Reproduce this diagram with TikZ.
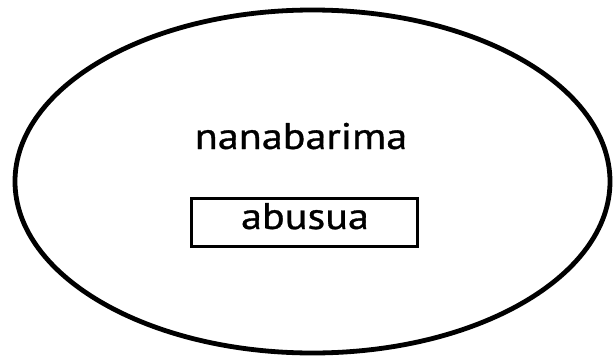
\documentclass[tikz,border=0pt]{standalone}
\usepackage{fontspec}
\setmainfont{PT Sans}[FakeBold=0.8,AutoFakeBold=0.8]
\usetikzlibrary{shapes.geometric}
\begin{document}
\begin{tikzpicture}[x=1pt,y=-1pt,
  outline/.style={draw=black,line width=4.8pt},
  label/.style={font=\fontsize{37}{42}\selectfont\bfseries,inner sep=0pt,anchor=base,xscale=1.14}]
\useasboundingbox (0,0) rectangle (614,362);
% enclosing ellipse
\draw[outline] (312.5,181.5) ellipse [x radius=297.5, y radius=171.5];
\node[label] (top) at (301,149) {nanabarima};
\draw[outline,line width=3.4pt] (191.5,198.5) rectangle (417.5,246.5);
\node[label] (inner) at (305,229) {abusua};
\end{tikzpicture}
\end{document}
